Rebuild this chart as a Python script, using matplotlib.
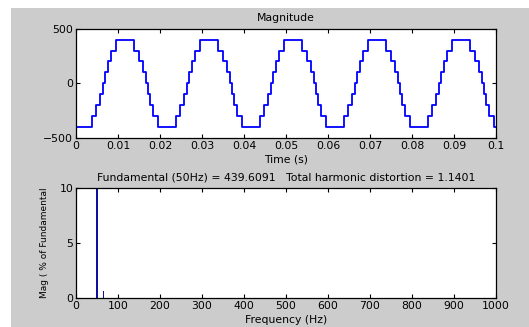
import numpy as np
import matplotlib
matplotlib.use('Agg')
import matplotlib.pyplot as plt
from matplotlib.patches import Rectangle

plt.rcParams['font.family'] = ['DejaVu Sans']
plt.rcParams['font.size'] = 7.8

# Staircase inverter voltage: switching instants in one 20 ms period
period = 0.02
n_periods = 5
start_level = -400
rise_times = [0.0038, 0.0048, 0.0057, 0.0064, 0.0070, 0.0076, 0.0083, 0.0095]
rise_levels = [-300, -200, -100, 0, 100, 200, 300, 400]
fall_times = [0.0137, 0.0149, 0.0159, 0.0166, 0.0171, 0.0176, 0.0184, 0.0195]
fall_levels = [300, 200, 100, 0, -100, -200, -300, -400]

time_ticks = [0, 0.01, 0.02, 0.03, 0.04, 0.05, 0.06, 0.07, 0.08, 0.09, 0.1]
time_labels = ['0', '0.01', '0.02', '0.03', '0.04', '0.05', '0.06', '0.07', '0.08', '0.09', '0.1']
volt_ticks = [-500, 0, 500]

# FFT spectrum (% of fundamental)
freqs = [50, 65, 100]
mags = [100, 0.7, 0.35]
freq_ticks = [0, 100, 200, 300, 400, 500, 600, 700, 800, 900, 1000]
mag_ticks = [0, 5, 10]

fundamental = 439.6091
thd = 1.1401

# build the stepped signal
one_t = np.array(rise_times + fall_times)
one_y = np.array(rise_levels + fall_levels)
t = [0.0]
y = [start_level]
for p in range(n_periods):
    t += list(one_t + p * period)
    y += list(one_y)
t.append(time_ticks[-1])
y.append(y[-1])

W, H = 529, 327
fig = plt.figure(figsize=(W / 100, H / 100), dpi=100, facecolor='white')
fig.patches.append(Rectangle((11 / W, 0), 1 - 11 / W, 1 - 8 / H, transform=fig.transFigure,
                             facecolor='#cccccc', edgecolor='none', zorder=-10))

ax1 = fig.add_axes([76 / W, 1 - 138 / H, 420 / W, 109.3 / H])
ax2 = fig.add_axes([76 / W, 1 - 298.3 / H, 420 / W, 110.3 / H])

ax1.step(t, y, where='post', color='#0000ff', linewidth=1.3)
ax1.set_xlim(0, 0.1)
ax1.set_ylim(-500, 500)
ax1.set_xticks(time_ticks)
ax1.set_xticklabels(time_labels)
ax1.set_yticks(volt_ticks)
ax1.set_title('Magnitude', fontsize=7.8, pad=5.5)
ax1.set_xlabel('Time (s)', labelpad=2.5)

ax2.bar(freqs, mags, width=[3, 3, 1.5], color='#10109a', edgecolor='none')
ax2.set_xlim(0, 1000)
ax2.set_ylim(0, 10)
ax2.set_xticks(freq_ticks)
ax2.set_yticks(mag_ticks)
ax2.set_title('Fundamental (50Hz) = %.4f   Total harmonic distortion = %.4f' % (fundamental, thd),
              fontsize=7.8, pad=5.5)
ax2.set_xlabel('Frequency (Hz)', labelpad=2.5)
ax2.set_ylabel('Mag ( % of Fundamental', fontsize=6.5)
ax2.yaxis.set_label_coords(-0.064, 0.5)

for ax in (ax1, ax2):
    ax.set_facecolor('white')
    ax.tick_params(direction='in', top=True, right=True, length=3, width=0.8,
                   labelsize=7.8, pad=2)
    for s in ax.spines.values():
        s.set_linewidth(0.9)

fig.savefig('out.png', dpi=100, facecolor=fig.get_facecolor())
